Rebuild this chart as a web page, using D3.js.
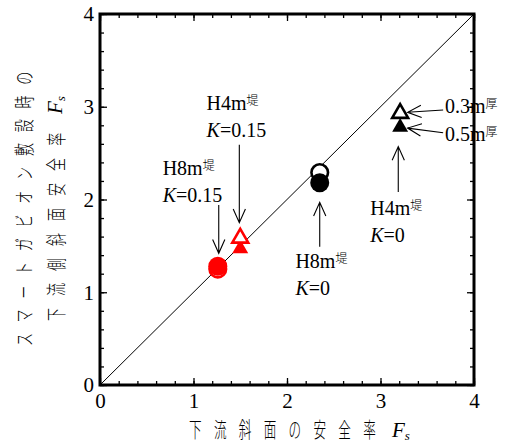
<!DOCTYPE html>
<html>
<head>
<meta charset="utf-8">
<script src="https://cdn.jsdelivr.net/npm/d3@7"></script>
<style>
  body { margin: 0; background: #fff; }
  text { font-family: "Liberation Serif", "Noto Sans CJK JP", serif; fill: #000; }
  .jp { font-family: "Noto Sans CJK JP", sans-serif; font-weight: 300; }
</style>
</head>
<body>
<svg width="507" height="446"></svg>
<script>
document.addEventListener('DOMContentLoaded', ()=> {

    // values: [Fs downstream, Fs with gabion]
    const redOpenCircle   = [[1.26, 1.25]];
    const redFilledCircle = [[1.26, 1.28]];
    const redOpenTri      = [[1.50, 1.585]];
    const redFilledTri    = [[1.50, 1.47]];
    const blackOpenCircle   = [[2.35, 2.29]];
    const blackFilledCircle = [[2.35, 2.18]];
    const blackOpenTri      = [[3.21, 2.93]];
    const blackFilledTri    = [[3.21, 2.78]];

    const majorTicks = [0, 1, 2, 3, 4];
    const minorTicks = d3.range(0, 4.01, 0.2);

    // annotations in data units: [x1, y1, x2(tip), y2(tip)]
    const arrows = [
        [1.49, 2.59, 1.49, 1.75],
        [1.27, 1.94, 1.27, 1.42],
        [2.35, 1.49, 2.35, 1.97],
        [3.19, 2.08, 3.19, 2.57],
        [3.67, 2.965, 3.29, 2.94],
        [3.67, 2.72, 3.29, 2.77]
    ];
    const dikeLabels = [
        { x: 1.14, y: 2.965, h: 'H4m', k: '0.15' },
        { x: 0.67, y: 2.26,  h: 'H8m', k: '0.15' },
        { x: 2.09, y: 1.26,  h: 'H8m', k: '0' },
        { x: 2.89, y: 1.83,  h: 'H4m', k: '0' }
    ];
    const thickLabels = [
        { x: 3.69, y: 2.93, t: '0.3m' },
        { x: 3.69, y: 2.63, t: '0.5m' }
    ];

    const svg = d3.select('svg');
    const x = d3.scaleLinear().domain([0, 4]).range([100, 474]);
    const y = d3.scaleLinear().domain([0, 4]).range([385, 14]);

    // diagonal
    svg.append('line')
        .attr('x1', x(0)).attr('y1', y(0))
        .attr('x2', x(4)).attr('y2', y(4))
        .attr('stroke', '#000').attr('stroke-width', 1);

    // axes, ticks inward
    const axes = svg.append('g');
    function addAxis(gen, tr, values, size, labels) {
        const g = axes.append('g').attr('transform', tr)
            .call(gen.tickValues(values).tickSize(size).tickPadding(labels ? 6 : 0)
                .tickFormat(labels ? d3.format('d') : ''));
        g.select('.domain').remove();
        g.selectAll('.tick line').attr('stroke', '#000').attr('stroke-width', 1.3);
        g.selectAll('text').style('font-family', '"Liberation Serif", serif')
            .style('font-size', '21px').attr('fill', '#000');
        return g;
    }
    addAxis(d3.axisBottom(x), `translate(0,${y(0)})`, minorTicks, -4, false);
    addAxis(d3.axisTop(x), `translate(0,${y(4)})`, minorTicks, -4, false);
    addAxis(d3.axisLeft(y), `translate(${x(0)},0)`, minorTicks, -4, false);
    addAxis(d3.axisRight(y), `translate(${x(4)},0)`, minorTicks, -4, false);
    addAxis(d3.axisBottom(x), `translate(0,${y(0)})`, majorTicks, -7, true)
        .selectAll('text').attr('y', 6).attr('dy', '0.8em');
    addAxis(d3.axisLeft(y), `translate(${x(0)},0)`, majorTicks, -7, true)
        .selectAll('text').attr('dy', '0.33em');
    addAxis(d3.axisTop(x), `translate(0,${y(4)})`, majorTicks, -7, false);
    addAxis(d3.axisRight(y), `translate(${x(4)},0)`, majorTicks, -7, false);

    svg.append('rect')
        .attr('x', x(0)).attr('y', y(4))
        .attr('width', x(4) - x(0)).attr('height', y(0) - y(4))
        .attr('fill', 'none').attr('stroke', '#000').attr('stroke-width', 3);

    // markers
    const tri = d3.symbol().type(d3.symbolTriangle).size(110);
    function circles(data, color, filled) {
        svg.selectAll(null).data(data).enter().append('circle')
            .attr('cx', d => x(d[0])).attr('cy', d => y(d[1]))
            .attr('r', filled ? 9.5 : 8.3)
            .attr('fill', filled ? color : '#fff')
            .attr('stroke', color).attr('stroke-width', filled ? 0 : 2.6);
    }
    function triangles(data, color, filled) {
        svg.selectAll(null).data(data).enter().append('path')
            .attr('d', tri)
            .attr('transform', d => `translate(${x(d[0])},${y(d[1])})`)
            .attr('fill', filled ? color : '#fff')
            .attr('stroke', color).attr('stroke-width', filled ? 0 : 2.6);
    }
    circles(redOpenCircle, '#ff0000', false);
    circles(redFilledCircle, '#ff0000', true);
    triangles(redFilledTri, '#ff0000', true);
    triangles(redOpenTri, '#ff0000', false);
    circles(blackOpenCircle, '#000', false);
    circles(blackFilledCircle, '#000', true);
    triangles(blackFilledTri, '#000', true);
    triangles(blackOpenTri, '#000', false);

    // arrows with open heads
    arrows.forEach(a => {
        const x1 = x(a[0]), y1 = y(a[1]), x2 = x(a[2]), y2 = y(a[3]);
        const ang = Math.atan2(y2 - y1, x2 - x1);
        const len = 15, spread = 0.42;
        const path = d3.path();
        path.moveTo(x1, y1); path.lineTo(x2, y2);
        path.moveTo(x2 - len * Math.cos(ang - spread), y2 - len * Math.sin(ang - spread));
        path.lineTo(x2, y2);
        path.lineTo(x2 - len * Math.cos(ang + spread), y2 - len * Math.sin(ang + spread));
        svg.append('path').attr('d', path.toString())
            .attr('fill', 'none').attr('stroke', '#000').attr('stroke-width', 1.1);
    });

    // dike labels
    dikeLabels.forEach(d => {
        const t1 = svg.append('text').attr('x', x(d.x)).attr('y', y(d.y))
            .style('font-size', '20px');
        t1.append('tspan').text(d.h);
        t1.append('tspan').attr('class', 'jp').attr('dy', -5)
            .style('font-size', '12px').text('堤');
        const t2 = svg.append('text').attr('x', x(d.x)).attr('y', y(d.y) + 27)
            .style('font-size', '20px');
        t2.append('tspan').style('font-style', 'italic').text('K');
        t2.append('tspan').text('=' + d.k);
    });
    thickLabels.forEach(d => {
        const t = svg.append('text').attr('x', x(d.x)).attr('y', y(d.y))
            .style('font-size', '20px');
        t.append('tspan').text(d.t);
        t.append('tspan').attr('class', 'jp').attr('dy', -5)
            .style('font-size', '12px').text('厚');
    });

    // x axis title (tall, narrow glyphs as in the original)
    svg.append('text').attr('class', 'jp')
        .attr('transform', 'translate(189,437) scale(0.6,1)')
        .style('font-size', '21px').style('letter-spacing', '20.5px')
        .text('下流斜面の安全率');
    const xf = svg.append('text').attr('x', 392).attr('y', 437).style('font-size', '21px');
    xf.append('tspan').style('font-style', 'italic').text('F');
    xf.append('tspan').attr('dy', 3).style('font-style', 'italic').style('font-size', '13px').text('s');

    // y axis title, two rotated lines
    svg.append('text').attr('transform', 'translate(23,346) rotate(-90) scale(0.65,1)')
        .attr('dominant-baseline', 'central').attr('class', 'jp')
        .style('font-size', '20px').style('letter-spacing', '16.6px')
        .text('スマートガビオン敷設時の');
    svg.append('text').attr('transform', 'translate(55,321) rotate(-90) scale(0.65,1)')
        .attr('dominant-baseline', 'central').attr('class', 'jp')
        .style('font-size', '20px').style('letter-spacing', '18.5px')
        .text('下流側斜面安全率');
    const yf = svg.append('text').attr('transform', 'translate(62,114) rotate(-90)');
    yf.append('tspan').style('font-style', 'italic').style('font-size', '21px').text('F');
    yf.append('tspan').attr('dy', 3).style('font-style', 'italic').style('font-size', '13px').text('s');

});
</script>
</body>
</html>
